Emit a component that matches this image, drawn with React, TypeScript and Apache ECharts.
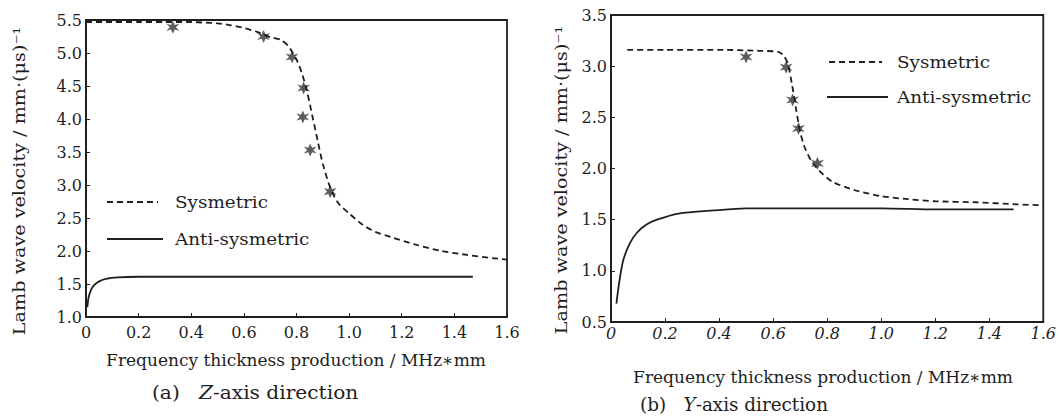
import React, { useEffect, useRef } from "react";
import * as echarts from "echarts";

// ---- data (a) Z-axis direction ----
const zSymX = [0, 0.1, 0.2, 0.3, 0.4, 0.45, 0.5, 0.55, 0.6, 0.65, 0.7, 0.74, 0.77, 0.8, 0.82, 0.84, 0.86, 0.88, 0.9, 0.93, 0.96, 1.0, 1.05, 1.1, 1.16, 1.25, 1.35, 1.45, 1.55, 1.6];
const zSymY = [5.47, 5.47, 5.47, 5.47, 5.47, 5.46, 5.45, 5.42, 5.38, 5.32, 5.24, 5.2, 5.1, 4.9, 4.7, 4.42, 4.05, 3.68, 3.32, 2.94, 2.72, 2.57, 2.4, 2.29, 2.21, 2.1, 2.0, 1.94, 1.89, 1.87];
const zAntiX = [0.005, 0.01, 0.02, 0.03, 0.05, 0.08, 0.12, 0.2, 0.4, 0.6, 0.8, 1.0, 1.2, 1.47];
const zAntiY = [1.15, 1.3, 1.42, 1.48, 1.54, 1.58, 1.6, 1.61, 1.61, 1.61, 1.61, 1.61, 1.61, 1.61];
const zMarkX = [0.33, 0.675, 0.783, 0.827, 0.824, 0.852, 0.928];
const zMarkY = [5.39, 5.25, 4.94, 4.47, 4.03, 3.53, 2.9];

// ---- data (b) Y-axis direction ----
const ySymX = [0.06, 0.2, 0.4, 0.55, 0.62, 0.64, 0.655, 0.67, 0.685, 0.7, 0.715, 0.74, 0.77, 0.82, 0.9, 1.0, 1.1, 1.2, 1.35, 1.5, 1.6];
const ySymY = [3.16, 3.16, 3.16, 3.15, 3.14, 3.1, 3.02, 2.82, 2.58, 2.36, 2.22, 2.08, 1.98, 1.87, 1.79, 1.73, 1.7, 1.68, 1.67, 1.65, 1.64];
const yAntiX = [0.02, 0.03, 0.045, 0.07, 0.095, 0.13, 0.17, 0.25, 0.38, 0.5, 0.7, 1.0, 1.2, 1.49];
const yAntiY = [0.68, 0.88, 1.1, 1.27, 1.37, 1.45, 1.5, 1.56, 1.59, 1.61, 1.61, 1.61, 1.6, 1.6];
const yMarkX = [0.5, 0.648, 0.672, 0.694, 0.764];
const yMarkY = [3.09, 2.99, 2.67, 2.39, 2.05];

const legendNames = ["Sysmetric", "Anti-sysmetric"];
const xAxisTitle = "Frequency thickness production / MHz\u2217mm";
const yAxisTitle = "Lamb wave velocity / mm\u00b7(\u03bcs)\u207b\u00b9";

const FONT = "DejaVu Serif, Liberation Serif, serif";
const INK = "#1e1e1e";
const STAR = "path://M0,-10 L2.6,-3.5 L9,-5.5 L4.2,0 L9,5.5 L2.6,3.5 L0,10 L-2.6,3.5 L-9,5.5 L-4.2,0 L-9,-5.5 L-2.6,-3.5 Z";

const zip = (xs: number[], ys: number[]) => xs.map((x, i) => [x, ys[i]]);

export default function App() {
  const ref = useRef<HTMLDivElement>(null);
  useEffect(() => {
    if (!ref.current) return;
    const chart = echarts.init(ref.current, undefined, { renderer: "svg" });
    const axisCommon = {
      axisLine: { show: true, lineStyle: { color: INK, width: 1.8 } },
      axisTick: { show: true, inside: true, length: 4, lineStyle: { color: INK } },
      splitLine: { show: false },
    };
    const xAx = (gridIndex: number, margin: number, italic: boolean) => ({
      type: "value",
      gridIndex,
      min: 0,
      max: 1.6,
      interval: 0.2,
      ...axisCommon,
      axisLabel: {
        margin,
        color: INK,
        fontFamily: FONT,
        fontSize: 16,
        fontStyle: italic ? "italic" : "normal",
        formatter: (v: number) => (v === 0 ? "0" : v.toFixed(1)),
      },
    });
    const yAx = (gridIndex: number, min: number, max: number) => ({
      type: "value",
      gridIndex,
      min,
      max,
      interval: 0.5,
      ...axisCommon,
      axisLabel: {
        margin: 4,
        color: INK,
        fontFamily: FONT,
        fontSize: 16,
        formatter: (v: number) => v.toFixed(1),
      },
    });
    const gridBase = { show: true, borderColor: INK, borderWidth: 1.8, backgroundColor: "transparent" };
    const symLine = (idx: number, xs: number[], ys: number[]) => ({
      type: "line",
      xAxisIndex: idx,
      yAxisIndex: idx,
      data: zip(xs, ys),
      smooth: 0.25,
      symbol: "none",
      lineStyle: { color: INK, width: 1.8, type: [6, 4] },
    });
    const antiLine = (idx: number, xs: number[], ys: number[]) => ({
      type: "line",
      xAxisIndex: idx,
      yAxisIndex: idx,
      data: zip(xs, ys),
      smooth: 0.25,
      symbol: "none",
      lineStyle: { color: INK, width: 1.8 },
    });
    const marks = (idx: number, xs: number[], ys: number[]) => ({
      type: "scatter",
      xAxisIndex: idx,
      yAxisIndex: idx,
      data: zip(xs, ys),
      symbol: STAR,
      symbolSize: 13,
      itemStyle: { color: "#333333" },
    });
    const txt = (x: number, y: number, text: string, extra: any = {}) => ({
      type: "text",
      x,
      y,
      rotation: extra.rotation || 0,
      scaleX: extra.scaleX || 1,
      style: {
        text,
        fill: INK,
        font: `${extra.size || 17}px ${FONT}`,
        align: extra.align || "left",
        verticalAlign: "middle",
        rich: extra.rich,
      },
    });
    const seg = (x1: number, x2: number, y: number, dashed: boolean) => ({
      type: "line",
      shape: { x1, y1: y, x2, y2: y },
      style: { stroke: INK, lineWidth: 1.8, lineDash: dashed ? [6, 4] : null },
    });
    const capRich = { i: { fontStyle: "italic", fontFamily: FONT, fontSize: 18, fill: INK } };
    chart.setOption({
      animation: false,
      backgroundColor: "#ffffff",
      grid: [
        { ...gridBase, left: 86, top: 20, width: 421, height: 297 },
        { ...gridBase, left: 611, top: 15, width: 436, height: 307 },
      ],
      xAxis: [xAx(0, 7, false), xAx(1, 3, true)],
      yAxis: [yAx(0, 1.0, 5.5), yAx(1, 0.5, 3.5)],
      series: [
        symLine(0, zSymX, zSymY),
        antiLine(0, zAntiX, zAntiY),
        marks(0, zMarkX, zMarkY),
        symLine(1, ySymX, ySymY),
        antiLine(1, yAntiX, yAntiY),
        marks(1, yMarkX, yMarkY),
      ],
      graphic: [
        // legends
        seg(107, 158, 202, true),
        txt(175, 202, legendNames[0], { size: 17.5, scaleX: 1.05 }),
        seg(107, 163, 239, false),
        txt(175, 239, legendNames[1], { size: 17.5, scaleX: 1.05 }),
        seg(829, 882, 62, true),
        txt(897, 62, legendNames[0], { size: 17.5, scaleX: 1.05 }),
        seg(827, 888, 97, false),
        txt(897, 97, legendNames[1], { size: 17.5, scaleX: 1.05 }),
        // axis titles
        txt(20, 181, yAxisTitle, { rotation: Math.PI / 2, align: "center", size: 16, scaleX: 1.2 }),
        txt(562, 180, yAxisTitle, { rotation: Math.PI / 2, align: "center", size: 16, scaleX: 1.2 }),
        txt(296, 360, xAxisTitle, { align: "center", size: 17 }),
        txt(823, 377, xAxisTitle, { align: "center", size: 17 }),
        // captions
        txt(152, 393, "(a)   {i|Z}-axis direction", { size: 18, scaleX: 1.12, rich: capRich }),
        txt(640, 405, "(b)   {i|Y}-axis direction", { size: 18, scaleX: 1.02, rich: capRich }),
      ],
    });
    return () => chart.dispose();
  }, []);
  return <div ref={ref} style={{ position: "absolute", left: 0, top: 0, width: 1059, height: 416 }} />;
}
